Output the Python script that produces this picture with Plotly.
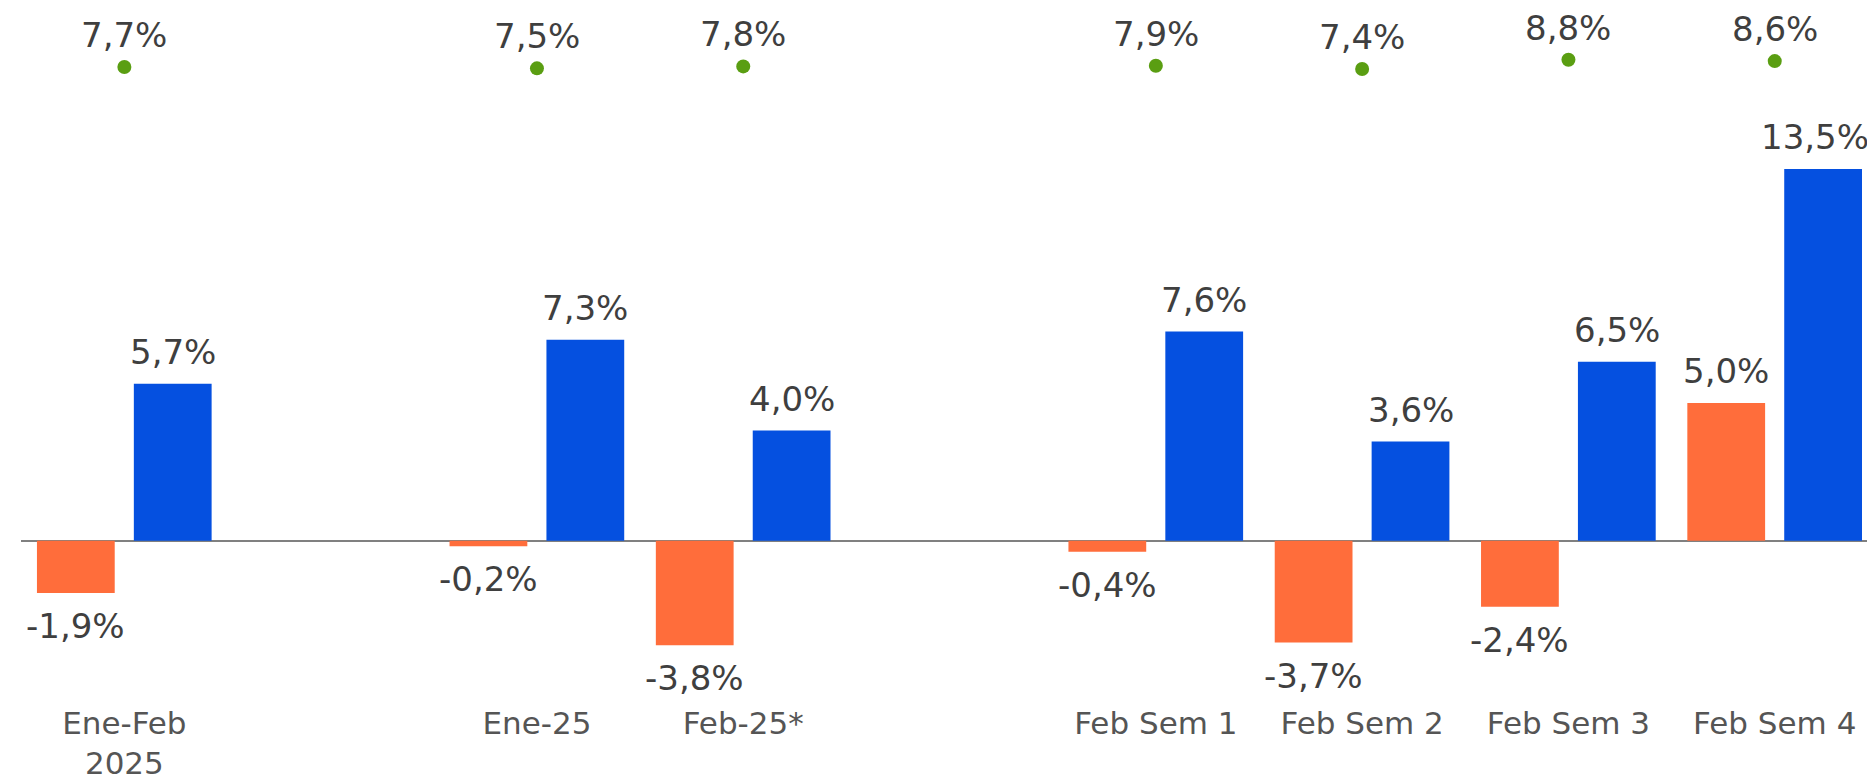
import plotly.graph_objects as go

categories = ["Ene-Feb<br>2025", "Ene-25", "Feb-25*", "Feb Sem 1", "Feb Sem 2", "Feb Sem 3", "Feb Sem 4"]
slots = [0, 2, 3, 5, 6, 7, 8]
orange_vals = [-1.9, -0.2, -3.8, -0.4, -3.7, -2.4, 5.0]
blue_vals = [5.7, 7.3, 4.0, 7.6, 3.6, 6.5, 13.5]
green_vals = [7.7, 7.5, 7.8, 7.9, 7.4, 8.8, 8.6]

ORANGE = "#FF6D3B"
BLUE = "#0550E0"
GREEN = "#5A9E12"
TXT = "#3f3f3f"
FONT = "DejaVu Sans"
LBL = 34

W = 0.377
XMAX = 8.486
fig = go.Figure()
fig.add_trace(go.Bar(x=slots, y=orange_vals, width=W, offset=-0.4237,
                     marker=dict(color=ORANGE, line=dict(width=0)), showlegend=False))
fig.add_trace(go.Bar(x=slots, y=blue_vals, width=W, offset=0.046,
                     marker=dict(color=BLUE, line=dict(width=0)), showlegend=False))
fig.add_trace(go.Scatter(x=slots, y=green_vals, mode="markers", yaxis="y2",
                         marker=dict(color=GREEN, size=14), showlegend=False))

def fmt(v):
    return f"{v:.1f}".replace(".", ",") + "%"

ann = []
for s, o, b, g in zip(slots, orange_vals, blue_vals, green_vals):
    for v, off in ((o, -0.4237), (b, 0.046)):
        xc = s + off + W / 2
        a = dict(x=xc, y=v, xref="x", yref="y", text=fmt(v), showarrow=False,
                 font=dict(size=LBL, color=TXT, family=FONT))
        if v >= 0:
            a.update(yanchor="bottom", yshift=10)
        else:
            a.update(yanchor="top", yshift=-11)
        if s + off + W > XMAX - 0.1:
            # keep label inside the right edge
            a.update(x=s + off + W, xanchor="right", xshift=9)
        ann.append(a)
    ann.append(dict(x=s, y=g, xref="x", yref="y2", text=fmt(g), showarrow=False,
                    yanchor="bottom", yshift=10, font=dict(size=LBL, color=TXT, family=FONT)))

fig.update_layout(
    width=1867, height=773,
    margin=dict(l=13, r=0, t=2, b=76),
    paper_bgcolor="white", plot_bgcolor="white",
    barmode="overlay",
    xaxis=dict(range=[-0.501, XMAX], tickvals=slots, ticktext=categories,
               showgrid=False, zeroline=False, showline=False, ticks="",
               tickfont=dict(size=31, color="#555555", family=FONT)),
    yaxis=dict(range=[-5.86, 19.28], showgrid=False, zeroline=True, zerolinecolor="#808080",
               zerolinewidth=2, showticklabels=False, showline=False),
    yaxis2=dict(range=[-88.93, 16.38], overlaying="y", visible=False),
    annotations=ann,
)
fig.write_html("out.html")
